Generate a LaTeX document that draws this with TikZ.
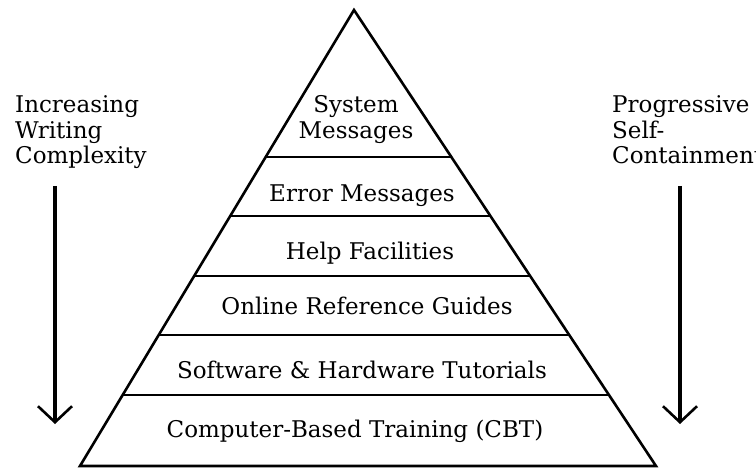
\documentclass[tikz,border=0pt]{standalone}
\usepackage{fontspec}
\setmainfont{DejaVu Serif}
\usetikzlibrary{arrows.meta,calc}
\tikzset{
  edge/.style={line width=2.6pt, line join=miter},
  layer/.style={line width=2.6pt},
  lbl/.style={anchor=base, inner sep=0pt, font=\fontsize{23}{24}\selectfont},
  side/.style={anchor=base west, inner sep=0pt, font=\fontsize{23}{24}\selectfont},
  arr/.style={line width=3.2pt, -{Straight Barb[length=16pt, width=34pt, line width=2.6pt]}}
}
\begin{document}
\begin{tikzpicture}[x=1pt,y=-1pt]
\useasboundingbox (0,0) rectangle (756,468);
\coordinate (A) at (354,10);
\coordinate (BL) at (80,466);
\coordinate (BR) at (656,466);
\draw[edge] (A) -- (BL) -- (BR) -- cycle;
\foreach \t/\n in {0.3224/1,0.4518/2,0.5833/3,0.7127/4,0.8443/5}{
  \coordinate (L\n) at ($(A)!\t!(BL)$);
  \coordinate (R\n) at ($(A)!\t!(BR)$);
  \draw[layer] (L\n) -- (R\n);
}
\node[lbl] (sys1) at (356,113) {System};
\node[lbl] (sys2) at (356,139) {Messages};
\node[lbl] (err) at (362,202) {Error Messages};
\node[lbl] (help) at (370,259) {Help Facilities};
\node[lbl] (orl) at (367,315) {Online Reference Guides};
\node[lbl] (sw) at (362,378) {Software \& Hardware Tutorials};
\node[lbl] (cbt) at (355,437) {Computer-Based Training (CBT)};
\node[side] (l1) at (15,113) {Increasing};
\node[side] (l2) at (15,139) {Writing};
\node[side] (l3) at (15,164) {Complexity};
\node[side] (r1) at (612,113) {Progressive};
\node[side] (r2) at (612,139) {Self-};
\node[side] (r3) at (612,164) {Containment};
\coordinate (la1) at (55,186);
\coordinate (la2) at (55,424);
\coordinate (ra1) at (680,186);
\coordinate (ra2) at (680,424);
\draw[arr] (la1) -- (la2);
\draw[arr] (ra1) -- (ra2);
\end{tikzpicture}
\end{document}
